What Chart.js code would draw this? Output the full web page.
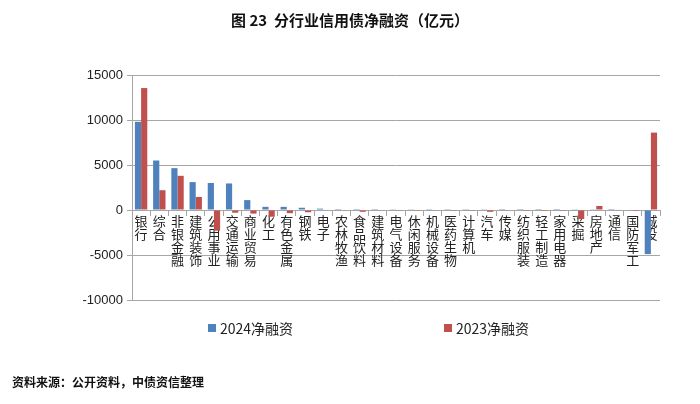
<!DOCTYPE html>
<html>
<head>
<meta charset="utf-8">
<script src="https://cdn.jsdelivr.net/npm/chart.js@4.4.0/dist/chart.umd.min.js"></script>
<style>
  body { margin: 0; background: #fff; font-family: "Noto Sans CJK SC", "Noto Sans", sans-serif; }
  #wrap { position: relative; width: 700px; height: 404px; }
  #title { position: absolute; top: 9px; left: 0; width: 700px; text-align: center; font-size: 15px; font-weight: bold; color: #111; }
  #legend { position: absolute; top: 318px; left: 0; width: 700px; font-size: 14px; color: #222; }
  .item { position: absolute; display: flex; align-items: center; }
  .box { width: 8px; height: 8px; margin-right: 4px; }
  #source { position: absolute; top: 373px; left: 12px; font-size: 12px; font-weight: bold; color: #111; }
</style>
</head>
<body>
<div id="wrap">
  <canvas id="chart" width="700" height="404"></canvas>
  <div id="title">图 23&nbsp; 分行业信用债净融资（亿元）</div>
  <div id="legend">
    <div class="item" style="left:208px"><span class="box" style="background:#4F81BD"></span>2024净融资</div>
    <div class="item" style="left:444px"><span class="box" style="background:#C0504D"></span>2023净融资</div>
  </div>
  <div id="source">资料来源：公开资料，中债资信整理</div>
</div>
<script>
const industries = ["银行", "综合", "非银金融", "建筑装饰", "公用事业", "交通运输", "商业贸易", "化工", "有色金属", "钢铁",
  "电子", "农林牧渔", "食品饮料", "建筑材料", "电气设备", "休闲服务", "机械设备", "医药生物", "计算机", "汽车",
  "传媒", "纺织服装", "轻工制造", "家用电器", "采掘", "房地产", "通信", "国防军工", "城投"];
const net2024 = [9800, 5500, 4650, 3100, 3000, 2950, 1100, 350, 350, 250,
  150, 100, 100, 100, 80, 30, 20, 20, 20, 30,
  10, 10, 10, 10, 30, 30, 100, 50, -4900];
const net2023 = [13550, 2200, 3800, 1450, -2300, -300, -400, -750, -350, -250,
  0, -50, -200, -50, -30, -20, -60, -80, -30, -200,
  -60, -20, -20, -20, -1000, 450, 50, -100, 8600];
const yTicks = [15000, 10000, 5000, 0, -5000, -10000];

const gridColor = "#a6a6a6";

new Chart(document.getElementById("chart"), {
  type: "bar",
  data: {
    // stack characters vertically
    labels: industries.map(s => s.split("")),
    datasets: [
      { label: "2024净融资", data: net2024, backgroundColor: "#4F81BD" },
      { label: "2023净融资", data: net2023, backgroundColor: "#C0504D" }
    ]
  },
  options: {
    responsive: false,
    animation: false,
    categoryPercentage: 0.68,
    barPercentage: 1,
    layout: { padding: { top: 75, bottom: 104, left: 72, right: 40 } },
    plugins: { legend: { display: false }, tooltip: { enabled: false } },
    scales: {
      x: {
        position: { y: 0 },
        grid: { display: true, drawOnChartArea: false, drawTicks: true, tickLength: 5, color: gridColor, offset: true },
        border: { color: gridColor },
        ticks: {
          autoSkip: false, maxRotation: 0, minRotation: 0, padding: 0,
          color: "#222",
          font: { family: "Noto Sans CJK SC", size: 13, lineHeight: 1.0 }
        }
      },
      y: {
        min: -10000, max: 15000,
        afterFit: s => { s.width = 60; },
        afterBuildTicks: s => { s.ticks = yTicks.map(v => ({ value: v })); },
        grid: { color: gridColor, tickLength: 5 },
        border: { color: gridColor },
        ticks: {
          color: "#222", padding: 4,
          font: { family: "Liberation Sans", size: 13 },
          callback: v => String(v)
        }
      }
    }
  }
});
</script>
</body>
</html>
